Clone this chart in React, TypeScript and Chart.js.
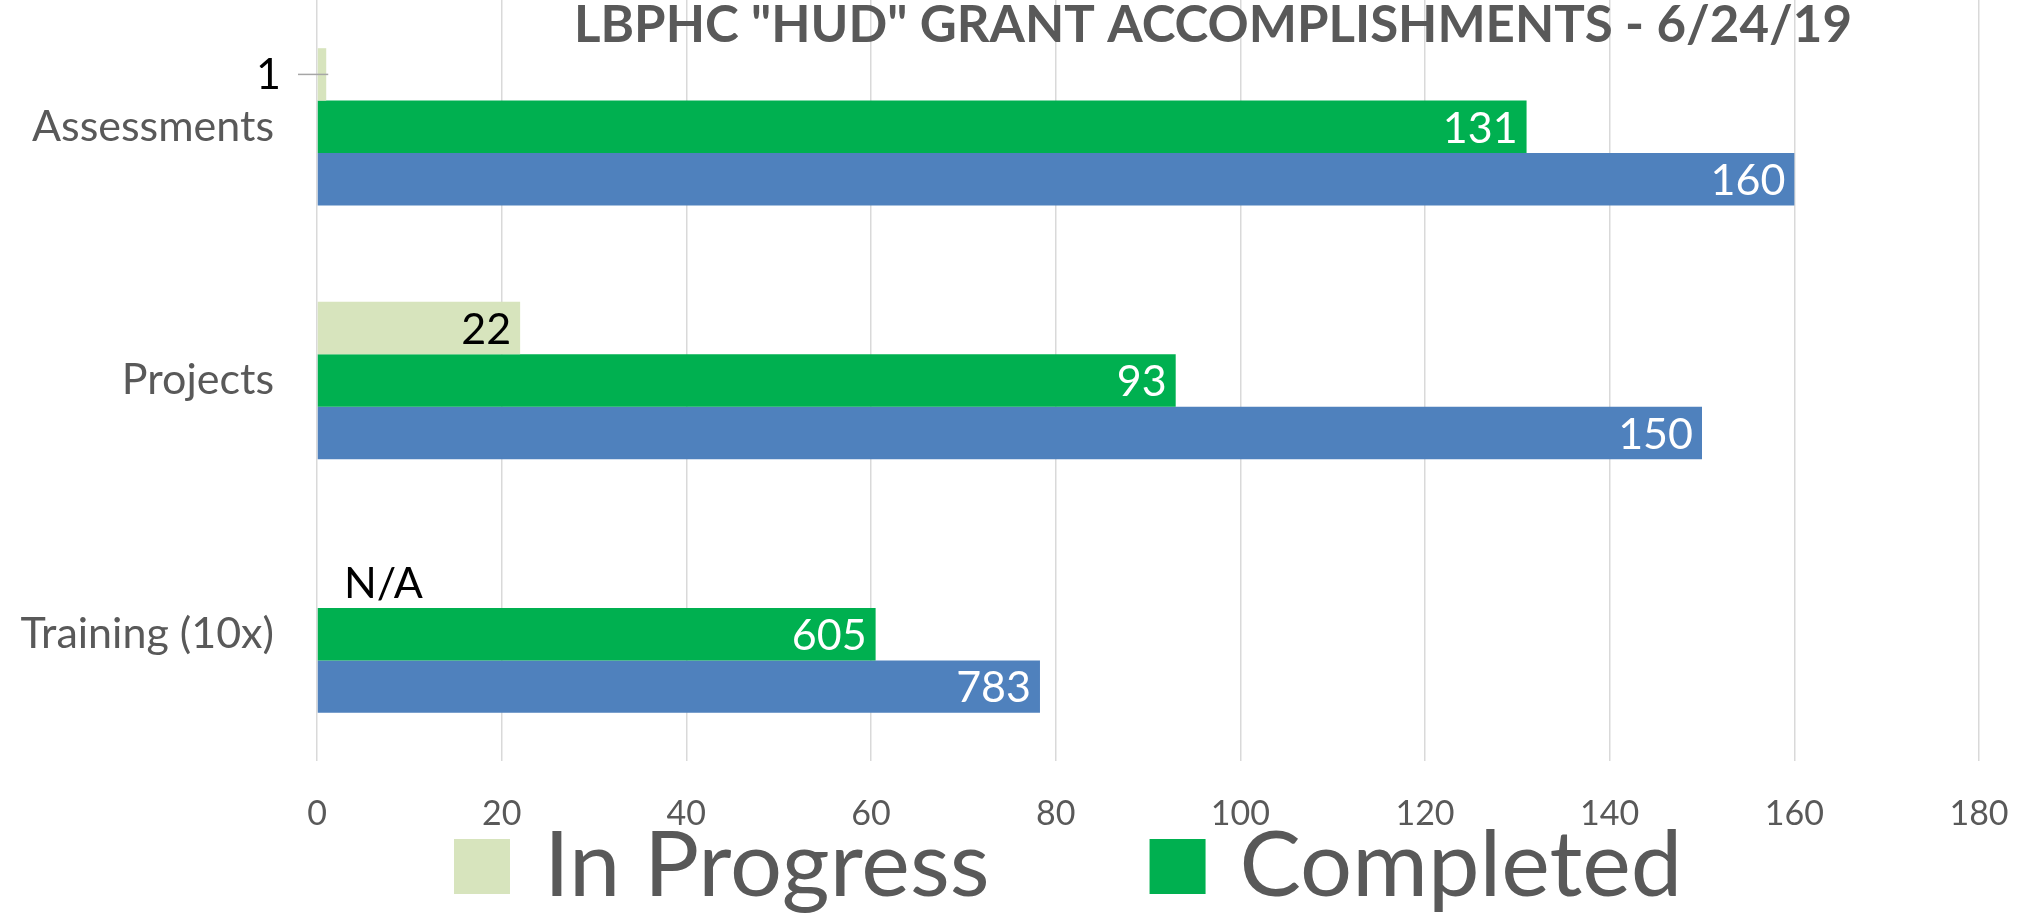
import React, { useEffect, useRef } from "react";
import { Chart, registerables } from "chart.js";

Chart.register(...registerables);

// ---- data ----
const chartTitle = 'LBPHC "HUD" GRANT ACCOMPLISHMENTS - 6/24/19';
const categories = ["Assessments", "Projects", "Training (10x)"];
const seriesNames = ["In Progress", "Completed", "Target"];
const inProgressValues: (number | null)[] = [1, 22, null];
const completedValues = [131, 93, 60.5];
const targetValues = [160, 150, 78.3];
const inProgressLabels = ["1", "22", "N/A"];
const completedLabels = ["131", "93", "605"];
const targetLabels = ["160", "150", "783"];
const xMin = 0;
const xMax = 180;
const xStep = 20;
const legendSeries = [0, 1];

// ---- styles ----
const seriesColors = ["#D7E4BD", "#00B050", "#4F81BD"];
const labelColors = ["#000000", "#FFFFFF", "#FFFFFF"];
const textGray = "#595959";
const gridGray = "#D9D9D9";
const FONT = "Lato";

const valueLabels = [inProgressLabels, completedLabels, targetLabels];

const valueLabelPlugin = {
  id: "valueLabels",
  afterDatasetsDraw(chart: any) {
    const ctx = chart.ctx as CanvasRenderingContext2D;
    const base = chart.scales.x.getPixelForValue(0);
    chart.data.datasets.forEach((ds: any, di: number) => {
      const meta = chart.getDatasetMeta(di);
      const texts = valueLabels[di];
      meta.data.forEach((bar: any, i: number) => {
        const text = texts[i];
        if (!text) return;
        const { x, y } = bar.getProps(["x", "y"], true);
        ctx.save();
        ctx.font = `43px ${FONT}`;
        ctx.textBaseline = "middle";
        ctx.fillStyle = labelColors[di];
        const w = ctx.measureText(text).width;
        const value = ds.data[i];
        if (value === null || value === undefined) {
          ctx.fillStyle = "#000000";
          ctx.textAlign = "left";
          ctx.fillText(text, base + 27, y + 2);
        } else if (x - base < w + 18) {
          ctx.strokeStyle = "#A6A6A6";
          ctx.lineWidth = 1.5;
          ctx.beginPath();
          ctx.moveTo(base - 19, y);
          ctx.lineTo(x + 2, y);
          ctx.stroke();
          ctx.textAlign = "right";
          ctx.fillText(text, base - 36, y + 1);
        } else {
          ctx.textAlign = "right";
          ctx.fillText(text, x - 9, y + 2);
        }
        ctx.restore();
      });
    });
  },
};

const titlePlugin = {
  id: "topTitle",
  afterDraw(chart: any) {
    const ctx = chart.ctx as CanvasRenderingContext2D;
    ctx.save();
    ctx.font = `bold 51px ${FONT}`;
    ctx.fillStyle = textGray;
    ctx.textAlign = "center";
    ctx.textBaseline = "alphabetic";
    ctx.fillText(chartTitle, 1213, 42);
    ctx.restore();
  },
};

const legendPlugin = {
  id: "bottomLegend",
  afterDraw(chart: any) {
    const ctx = chart.ctx as CanvasRenderingContext2D;
    ctx.save();
    ctx.font = `92px ${FONT}`;
    ctx.textBaseline = "alphabetic";
    ctx.textAlign = "left";
    let x = 454;
    const boxW = 56;
    const boxH = 55;
    const boxTop = 839;
    const baseline = 896;
    legendSeries.forEach((di) => {
      const ds = chart.data.datasets[di];
      ctx.fillStyle = ds.backgroundColor;
      ctx.fillRect(x, boxTop, boxW, boxH);
      ctx.fillStyle = textGray;
      const tx = x + boxW + 34;
      ctx.fillText(ds.label, tx, baseline);
      x = tx + ctx.measureText(ds.label).width + 160;
    });
    ctx.restore();
  },
};

export default function App() {
  const canvasRef = useRef<HTMLCanvasElement | null>(null);

  useEffect(() => {
    document.body.style.margin = "0";
    const canvas = canvasRef.current;
    if (!canvas) return;
    const chart = new Chart(canvas, {
      type: "bar",
      data: {
        labels: categories,
        datasets: [
          { label: seriesNames[0], data: inProgressValues, backgroundColor: seriesColors[0] },
          { label: seriesNames[1], data: completedValues, backgroundColor: seriesColors[1] },
          { label: seriesNames[2], data: targetValues, backgroundColor: seriesColors[2] },
        ],
      },
      options: {
        indexAxis: "y",
        responsive: false,
        animation: false,
        layout: { padding: { left: 0, right: 43, top: 0, bottom: 0 } },
        datasets: { bar: { categoryPercentage: 0.62, barPercentage: 1 } },
        scales: {
          x: {
            min: xMin,
            max: xMax,
            ticks: { stepSize: xStep, padding: 33, color: textGray, font: { family: FONT, size: 34 } },
            grid: { color: gridGray, lineWidth: 1.5, drawTicks: false },
            border: { display: false },
            afterFit: (s: any) => {
              s.height = 155;
              s.paddingLeft = 0;
              s.paddingRight = 0;
            },
          },
          y: {
            ticks: { padding: 43, color: textGray, font: { family: FONT, size: 43 } },
            grid: { display: false, drawTicks: false },
            border: { display: false },
            afterFit: (s: any) => {
              s.width = 317;
              s.paddingTop = 0;
              s.paddingBottom = 0;
            },
          },
        },
        plugins: {
          legend: { display: false },
          title: { display: false },
          tooltip: { enabled: false },
        },
      } as any,
      plugins: [valueLabelPlugin, titlePlugin, legendPlugin],
    });
    return () => chart.destroy();
  }, []);

  return (
    <div style={{ width: 2022, height: 916 }}>
      <canvas ref={canvasRef} width={2022} height={916} style={{ display: "block" }} />
    </div>
  );
}
